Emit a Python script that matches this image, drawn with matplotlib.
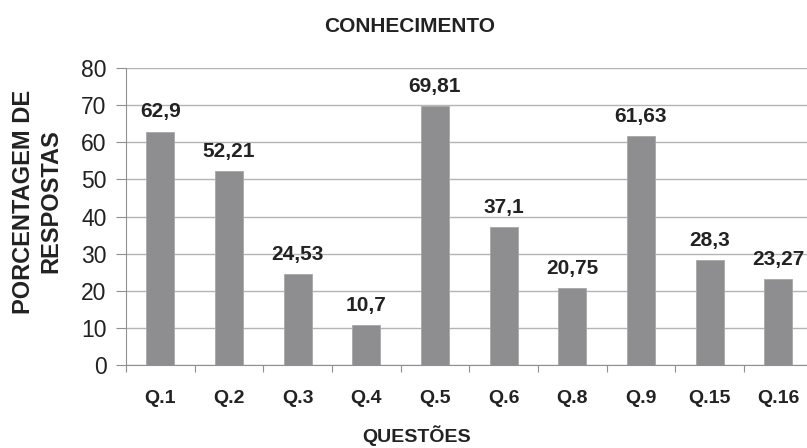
import numpy as np
import matplotlib
matplotlib.use("Agg")
import matplotlib.pyplot as plt

plt.rcParams["font.family"] = ["Liberation Sans", "DejaVu Sans"]

INK = "#222222"
BAR = "#8e8e90"
GRID = "#b4b4b4"

questoes = ["Q.1", "Q.2", "Q.3", "Q.4", "Q.5", "Q.6", "Q.8", "Q.9", "Q.15", "Q.16"]
valores = [62.9, 52.21, 24.53, 10.7, 69.81, 37.1, 20.75, 61.63, 28.3, 23.27]
rotulos = ["62,9", "52,21", "24,53", "10,7", "69,81", "37,1", "20,75", "61,63", "28,3", "23,27"]
yticks = [0, 10, 20, 30, 40, 50, 60, 70, 80]

fig = plt.figure(figsize=(8.07, 4.48), dpi=100)
ax = fig.add_axes([0.156, 0.185, 0.851, 0.663])

x = np.arange(len(questoes))
ax.bar(x, valores, width=0.41, color=BAR, edgecolor="#a8a8a8", linewidth=0.6, zorder=3)

for xi, v, lab in zip(x, valores, rotulos):
    ax.text(xi, v + 3.8, lab, ha="center", va="baseline", fontsize=15,
            fontweight="bold", color=INK, zorder=4)

ax.set_xlim(-0.5, len(questoes) - 0.5)
ax.set_ylim(0, 80)
ax.set_yticks(yticks)
ax.set_yticklabels([str(t) for t in yticks], fontsize=16.5, color=INK)
ax.set_xticks(x)
ax.set_xticklabels(questoes, fontsize=14, fontweight="bold", color=INK)
ax.set_xticks(np.arange(len(questoes) + 1) - 0.5, minor=True)
ax.tick_params(axis="x", which="major", length=0, pad=18)
ax.tick_params(axis="x", which="minor", length=5, color="#909090", width=0.8)
ax.tick_params(axis="y", length=7, color="#909090", width=0.8, pad=7)

ax.grid(axis="y", color=GRID, linewidth=1.0, zorder=0)
for s in ["top", "right"]:
    ax.spines[s].set_visible(False)
ax.spines["left"].set_color("#909090")
ax.spines["bottom"].set_color("#909090")

fig.text(0.516, 0.028, "QUESTÕES", ha="center", va="center",
         fontsize=14, fontweight="bold", color=INK)
fig.text(0.046, 0.55, "PORCENTAGEM DE\nRESPOSTAS", ha="center", va="center",
         rotation=90, fontsize=17, fontweight="bold", color=INK, linespacing=1.25)
fig.text(0.508, 0.94, "CONHECIMENTO", ha="center", va="center",
         fontsize=15, fontweight="bold", color=INK)

fig.savefig("out.png", dpi=100)
